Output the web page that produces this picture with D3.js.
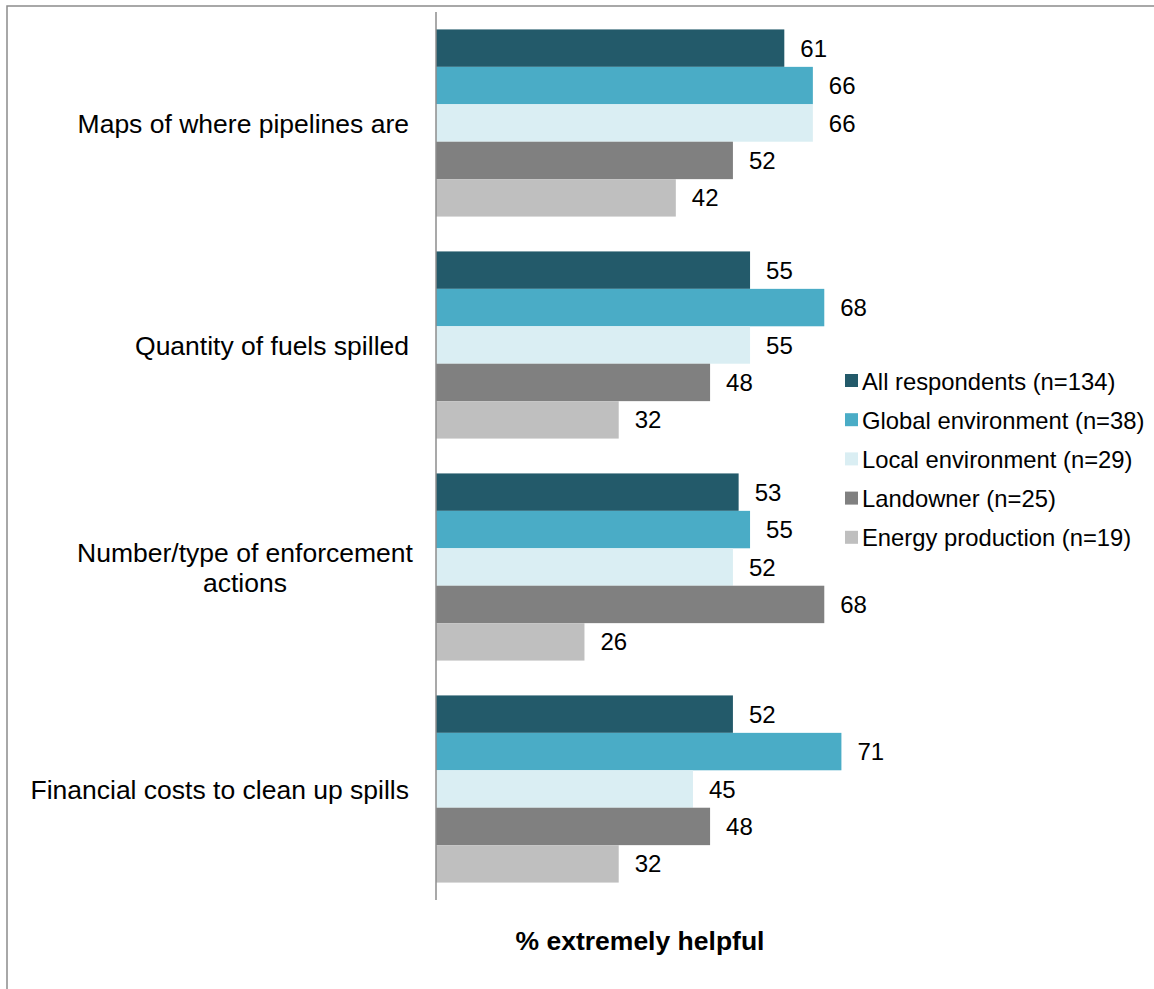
<!DOCTYPE html>
<html>
<head>
<meta charset="utf-8">
<script src="https://cdn.jsdelivr.net/npm/d3@7"></script>
<style>
  body { margin: 0; background: white; }
  svg { font-family: "Liberation Sans", Arial, sans-serif; }
</style>
</head>
<body>
<div id="chartdiv"></div>
<script>
// categories, series and values
const categories = [
  ['Maps of where pipelines are'],
  ['Quantity of fuels spilled'],
  ['Number/type of enforcement', 'actions'],
  ['Financial costs to clean up spills']
]
const seriesNames = [
  'All respondents (n=134)',
  'Global environment (n=38)',
  'Local environment (n=29)',
  'Landowner (n=25)',
  'Energy production (n=19)'
]
const seriesColors = ['#235a6a', '#4aacc6', '#daeef3', '#808080', '#bfbfbf']
const allRespondents = [61, 55, 53, 52]
const globalEnv = [66, 68, 55, 71]
const localEnv = [66, 55, 52, 45]
const landowner = [52, 48, 68, 48]
const energyProd = [42, 32, 26, 32]
const seriesValues = [allRespondents, globalEnv, localEnv, landowner, energyProd]

const W = 1154, H = 989

let svg = d3.select('#chartdiv').append('svg')
  .attr('width', W).attr('height', H)

// outer frame (only left and top edges show in the picture)
svg.append('rect')
  .attr('x', 7).attr('y', 6).attr('width', W + 20).attr('height', H + 20)
  .attr('fill', 'none').attr('stroke', '#8c8c8c').attr('stroke-width', 1.5)

let x0 = 436
let x = d3.scaleLinear().domain([0, 100]).range([x0, x0 + 571])

// outer band per category, inner band per series
let y = d3.scaleBand().domain(d3.range(categories.length)).range([12, 900]).paddingInner(0.157).paddingOuter(0.0785)
let yInner = d3.scaleBand().domain(d3.range(seriesNames.length)).range([0, y.bandwidth()])

let groups = svg.selectAll('g.catg')
  .data(categories)
  .enter().append('g')
  .attr('class', 'catg')
  .attr('transform', (d, i) => 'translate(0,' + y(i) + ')')

groups.each(function (cat, ci) {
  let g = d3.select(this)
  seriesValues.forEach((vals, si) => {
    g.append('rect')
      .attr('x', x(0))
      .attr('y', yInner(si))
      .attr('width', x(vals[ci]) - x(0))
      .attr('height', yInner.bandwidth())
      .attr('fill', seriesColors[si])
    g.append('text')
      .attr('x', x(vals[ci]) + 16)
      .attr('y', yInner(si) + yInner.bandwidth() / 2)
      .attr('dy', '0.36em')
      .attr('font-size', 24)
      .attr('fill', '#000')
      .text(vals[ci])
  })
  // category label: single lines right aligned, wrapped one centred
  let lines = cat
  let cy = y.bandwidth() / 2
  let lh = 30
  let t = g.append('text')
    .attr('font-size', 26.5)
    .attr('fill', '#000')
  lines.forEach((ln, li) => {
    t.append('tspan')
      .attr('x', lines.length > 1 ? 245 : 409)
      .attr('text-anchor', lines.length > 1 ? 'middle' : 'end')
      .attr('y', cy + (li - (lines.length - 1) / 2) * lh)
      .attr('dy', '0.36em')
      .text(ln)
  })
})

// vertical axis line
svg.append('line')
  .attr('x1', x0).attr('x2', x0)
  .attr('y1', 12).attr('y2', 900)
  .attr('stroke', '#8c8c8c').attr('stroke-width', 1.5)

// legend
let legend = svg.append('g').attr('transform', 'translate(845,381)')
seriesNames.forEach((nm, i) => {
  let lg = legend.append('g').attr('transform', 'translate(0,' + (i * 39.2) + ')')
  lg.append('rect')
    .attr('x', 0).attr('y', -7).attr('width', 13).attr('height', 13)
    .attr('fill', seriesColors[i])
  lg.append('text')
    .attr('x', 17).attr('y', 0).attr('dy', '0.36em')
    .attr('font-size', 23.8)
    .attr('fill', '#000')
    .text(nm)
})

// axis title
svg.append('text')
  .attr('x', 640).attr('y', 950)
  .attr('text-anchor', 'middle')
  .attr('font-size', 26.5)
  .attr('font-weight', 'bold')
  .attr('fill', '#000')
  .text('% extremely helpful')
</script>
</body>
</html>
